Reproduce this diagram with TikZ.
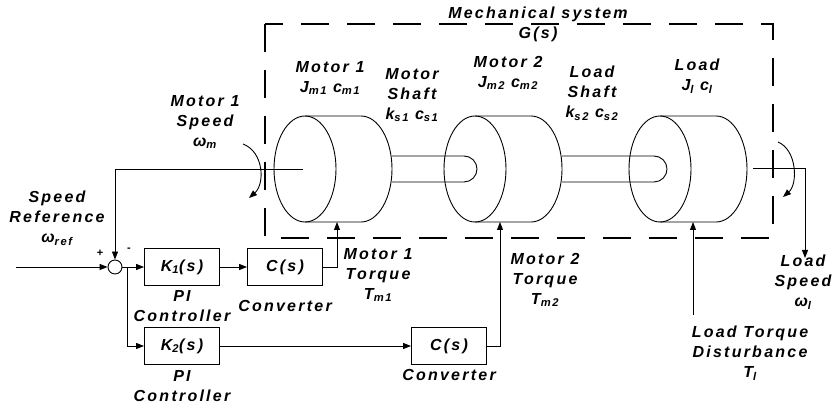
\documentclass[tikz,border=0pt]{standalone}
\usepackage{fontspec}
\setmainfont{Liberation Sans}[LetterSpace=14]
\usepackage{tikz}
\usetikzlibrary{positioning, arrows.meta, shapes}

\begin{document}
\begin{tikzpicture}[x=1pt, y=1pt, line width=0.9pt,
        font=\fontsize{16}{20}\selectfont\bfseries\itshape,
        blk/.style={draw, minimum width=75pt, minimum height=37pt, inner sep=0pt},
        lbl/.style={align=center, inner sep=0pt},
        arr/.style={-{Triangle[length=8pt, width=6pt]}}]
        \useasboundingbox (0,0) rectangle (834,406);
        % mechanical system
        \draw[dash pattern=on 28pt off 18pt, line width=1.3pt] (265,382) rectangle (773,168);
        \node[lbl] (mech) at (538,382) {Mechanical system\\G(s)};
        \foreach \cx in {305,475,660} {
            \draw (\cx,237) ellipse [x radius=31, y radius=53];
            \draw (\cx,290) -- ++(56,0) arc [start angle=90, end angle=-90, x radius=31, y radius=53] -- (\cx,184);
        }
        \draw (392,250) -- (464,250) arc [start angle=90, end angle=-90, radius=13] -- (392,224);
        \draw (562,250) -- (654,250) arc [start angle=90, end angle=-90, radius=13] -- (562,224);
        \node[lbl] (jm1) at (330,328) {Motor 1\\J\textsubscript{m1}\hspace{6pt}c\textsubscript{m1}};
        \node[lbl] (ks1) at (412,311) {Motor\\Shaft\\k\textsubscript{s1}\hspace{6pt}c\textsubscript{s1}};
        \node[lbl] (jm2) at (508,333) {Motor 2\\J\textsubscript{m2}\hspace{6pt}c\textsubscript{m2}};
        \node[lbl] (ks2) at (592,313) {Load\\Shaft\\k\textsubscript{s2}\hspace{6pt}c\textsubscript{s2}};
        \node[lbl] (jl) at (697,330) {Load\\J\textsubscript{l}\hspace{6pt}c\textsubscript{l}};
        % controllers
        \node[draw, circle, minimum size=14pt, inner sep=0pt] (sum) at (115,139) {};
        \node[blk] (k1) at (182,139) {K\textsubscript{1}(s)};
        \node[blk] (c1) at (285,139) {C(s)};
        \node[blk] (k2) at (182,60) {K\textsubscript{2}(s)};
        \node[blk] (c2) at (449,60) {C(s)};
        \coordinate (in) at (16,139); \coordinate (br) at (127,139);
        \coordinate (wm) at (303,237); \coordinate (wl0) at (753,238);
        \coordinate (wl) at (805,148); \coordinate (tl0) at (693,91);
        \coordinate (t1) at (337,184); \coordinate (t2) at (500,184);
        \coordinate (tl) at (693,184);
        \draw[arr] (in) -- (sum.west);
        \draw[arr] (wm) -| (sum.north);
        \draw[arr] (sum.east) -- (k1.west);
        \draw[arr] (br) |- (k2.west);
        \draw[arr] (k1) -- (c1); \draw[arr] (k2) -- (c2);
        \draw[arr] (c1.east) -| (t1); \draw[arr] (c2.east) -| (t2);
        \draw[arr] (tl0) -- (tl); \draw[arr] (wl0) -| (wl);
        % rotation
        \draw[arr] (243,262) .. controls (264,254) and (265,222) .. (249,208);
        \draw[arr] (778,264) .. controls (797,256) and (798,222) .. (783,209);
        \node[font=\fontsize{11}{12}\selectfont\bfseries] (plus) at (100,153) {+};
        \node[font=\fontsize{11}{12}\selectfont\bfseries] (minus) at (129,156) {-};
        \node[lbl] (wmtxt) at (205,284) {Motor 1\\Speed\\ω\textsubscript{m}};
        \node[lbl] (wref) at (57,188) {Speed\\Reference\\ω\textsubscript{ref}};
        \node[lbl] (pi1) at (182,100) {PI\\Controller};
        \node[lbl] (cv1) at (285,100) {Converter};
        \node[lbl] (tm1) at (378,131) {Motor 1\\Torque\\T\textsubscript{m1}};
        \node[lbl] (tm2) at (545,126) {Motor 2\\Torque\\T\textsubscript{m2}};
        \node[lbl] (pi2) at (182,20) {PI\\Controller};
        \node[lbl] (cv2) at (449,31) {Converter};
        \node[lbl] (tltxt) at (750,53) {Load Torque\\Disturbance\\T\textsubscript{l}};
        \node[lbl] (wltxt) at (803,124) {Load\\Speed\\ω\textsubscript{l}};
    \end{tikzpicture}
\end{document}
